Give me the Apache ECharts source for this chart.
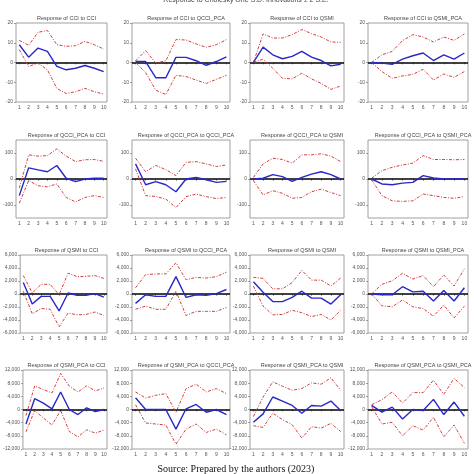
<!DOCTYPE html>
<html>
<head>
<meta charset="utf-8">
<script src="https://cdn.jsdelivr.net/npm/echarts@6/dist/echarts.min.js"></script>
<style>html,body{margin:0;padding:0;background:#fff;}#c{width:474px;height:474px;}</style>
</head>
<body>
<div id="c"></div>
<script>
// ---- data ----
const periods = [1,2,3,4,5,6,7,8,9,10];
const mainTitle = 'Response to Cholesky One S.D. Innovations \u00b1 2 S.E.';
const sourceText = 'Source: Prepared by the authors (2023)';
const titles = [
  'Response of CCI to CCI','Response of CCI to QCCI_PCA','Response of CCI to QSMI','Response of CCI to QSMI_PCA',
  'Response of QCCI_PCA to CCI','Response of QCCI_PCA to QCCI_PCA','Response of QCCI_PCA to QSMI','Response of QCCI_PCA to QSMI_PCA',
  'Response of QSMI to CCI','Response of QSMI to QCCI_PCA','Response of QSMI to QSMI','Response of QSMI to QSMI_PCA',
  'Response of QSMI_PCA to CCI','Response of QSMI_PCA to QCCI_PCA','Response of QSMI_PCA to QSMI','Response of QSMI_PCA to QSMI_PCA'
];
// row y-axis ranges and label ticks
const rowMin = [-20,-150,-6000,-12000];
const rowMax = [20,150,6000,12000];
const rowTicks = [[-20,-10,0,10,20],[-100,0,100],[-6000,-4000,-2000,0,2000,4000,6000],[-12000,-8000,-4000,0,4000,8000,12000]];

// panel 1: CCI to CCI
const p1_up  = [11.2,8.7,15.3,16.2,9.0,8.2,8.5,10.7,9.0,6.8];
const p1_mid = [9.0,2.7,7.3,5.6,-2.0,-3.7,-2.9,-1.5,-2.9,-4.6];
const p1_lo  = [6.5,-2.0,-0.3,-3.7,-13.1,-15.7,-14.8,-13.1,-14.8,-16.0];
// panel 2: CCI to QCCI_PCA
const p2_up  = [0.8,6.0,-0.3,0.9,11.6,11.4,9.4,7.7,9.0,11.6];
const p2_mid = [0.5,0.5,-7.7,-7.7,2.6,2.6,0.9,-1.4,0.5,2.9];
const p2_lo  = [0.0,-5.1,-14.0,-16.2,-6.5,-7.1,-8.9,-10.6,-8.5,-6.5];
// panel 3: CCI to QSMI
const p3_up  = [0,14.5,12.4,12.4,14.1,16.7,14.6,12.9,10.4,10.2];
const p3_mid = [0,7.8,3.9,1.9,3.1,5.6,2.7,1.0,-1.7,-0.9];
const p3_lo  = [0,1.7,-2.9,-8.0,-8.3,-5.4,-8.3,-10.6,-13.6,-11.9];
// panel 4: CCI to QSMI_PCA
const p4_up  = [0,3.9,5.6,11.1,14.1,12.9,10.4,12.9,11.2,14.5];
const p4_mid = [0,-0.3,-0.9,1.7,3.4,4.8,1.0,3.9,1.7,4.8];
const p4_lo  = [0,-4.6,-8.0,-6.8,-6.0,-3.4,-8.9,-5.8,-7.5,-4.6];
// panel 5: QCCI_PCA to CCI
const p5_up  = [-35,93,88,90,116,88,67,74,75,68];
const p5_mid = [-64,43,35,28,52,3,-10,0,3,3];
const p5_lo  = [-93,-6,-26,-30,-19,-71,-88,-71,-64,-71];
// panel 6: QCCI_PCA to QCCI_PCA
const p6_up  = [80,28,52,36,13,64,67,58,48,54];
const p6_mid = [58,-22,-10,-22,-49,0,6,-3,-13,-9];
const p6_lo  = [39,-64,-67,-77,-110,-68,-58,-68,-75,-71];
// panel 7: QCCI_PCA to QSMI
const p7_up  = [6,58,80,75,61,93,93,97,88,67];
const p7_mid = [0,3,17,9,-9,6,19,28,17,0];
const p7_lo  = [-6,-61,-45,-55,-74,-71,-49,-39,-52,-64];
// panel 8: QCCI_PCA to QSMI_PCA
const p8_up  = [3,32,45,54,61,90,75,75,74,75];
const p8_mid = [0,-19,-22,-16,-13,13,4,0,0,1];
const p8_lo  = [-3,-64,-84,-86,-84,-58,-64,-71,-74,-68];
// panel 9: QSMI to CCI
const p9_up  = [2830,160,1490,1490,-110,3200,2670,2720,2830,2400];
const p9_mid = [1760,-1550,-370,-370,-2610,160,-210,-210,50,-480];
const p9_lo  = [430,-3040,-2240,-2350,-5070,-2930,-3200,-3150,-2770,-3310];
// panel 10: QSMI to QCCI_PCA
const p10_up  = [960,2990,3090,3090,4800,2190,2560,2450,2670,3360];
const p10_mid = [-1440,-110,-370,-370,2670,-530,-110,-210,50,690];
const p10_lo  = [-2350,-1870,-2350,-2350,430,-3310,-2670,-2670,-2670,-2080];
// panel 11: QSMI to QSMI
const p11_up  = [2560,2400,800,800,1760,3630,2130,2130,1230,2450];
const p11_mid = [1870,270,-1170,-1170,-530,430,-640,-640,-1550,-110];
const p11_lo  = [1230,-1870,-3200,-3150,-2510,-2880,-3470,-3150,-4000,-2510];
// panel 12: QSMI to QSMI_PCA
const p12_up  = [0,1490,2030,3200,2290,2830,1120,2930,1230,3890];
const p12_mid = [0,-110,-110,1120,320,430,-1070,530,-1070,960];
const p12_lo  = [0,-1810,-1970,-910,-1970,-2240,-3410,-1710,-3680,-1870];
// panel 13: QSMI_PCA to CCI
const p13_up  = [-1850,7180,6050,5030,10970,7080,5330,7180,5640,6560];
const p13_mid = [-4410,3280,1950,210,5330,0,-1540,510,-620,0];
const p13_lo  = [-6770,-310,-2560,-4720,-310,-6670,-8310,-6150,-7180,-6260];
// panel 14: QSMI_PCA to QCCI_PCA
const p14_up  = [5330,3490,4310,4820,-820,6360,7690,5330,6360,4820];
const p14_mid = [3590,0,0,0,-5950,210,1540,-820,0,-1540];
const p14_lo  = [1440,-4100,-4410,-4720,-10560,-5950,-4410,-6970,-5950,-7690];
// panel 15: QSMI_PCA to QSMI
const p15_up  = [-2150,3800,8410,7080,5850,6360,8100,7690,9640,5850];
const p15_mid = [-3900,-1330,3800,2560,1230,-1130,1230,1030,2560,-310];
const p15_lo  = [-4920,-5440,-1130,-3080,-4620,-8720,-5230,-5640,-4210,-6670];
// panel 16: QSMI_PCA to QSMI_PCA
const p16_up  = [1440,2970,5330,1950,5130,5130,8920,4620,9440,6670];
const p16_mid = [1230,-820,720,-2870,0,-310,3080,-1540,2260,-2050];
const p16_lo  = [920,-4410,-3900,-8000,-4920,-6260,-2360,-8310,-4720,-10260];

const panels = [
  [p1_up,p1_mid,p1_lo],[p2_up,p2_mid,p2_lo],[p3_up,p3_mid,p3_lo],[p4_up,p4_mid,p4_lo],
  [p5_up,p5_mid,p5_lo],[p6_up,p6_mid,p6_lo],[p7_up,p7_mid,p7_lo],[p8_up,p8_mid,p8_lo],
  [p9_up,p9_mid,p9_lo],[p10_up,p10_mid,p10_lo],[p11_up,p11_mid,p11_lo],[p12_up,p12_mid,p12_lo],
  [p13_up,p13_mid,p13_lo],[p14_up,p14_mid,p14_lo],[p15_up,p15_mid,p15_lo],[p16_up,p16_mid,p16_lo]
];

// ---- layout ----
const colLeft = [16,132,250,368];
const colWidth = [91,98,94,100];
const rowTop = [23,140,255,370];
const rowHeight = [79,78,78,79];

const chart = echarts.init(document.getElementById('c'), null, {renderer:'canvas'});
const grids = [], xAxes = [], yAxes = [], series = [];
const titleArr = [
  {text: mainTitle, left: 241, top: -8, textAlign: 'center',
   textStyle: {fontSize: 7, fontWeight: 'normal', color: '#444', fontFamily: 'Liberation Sans'}},
  {text: sourceText, left: 231, top: 459, textAlign: 'center',
   textStyle: {fontSize: 10, fontWeight: 'normal', color: '#111', fontFamily: 'Liberation Serif'}}
];
const fmt = v => v === 0 ? '0' : Math.round(v).toLocaleString('en-US');
for (let i = 0; i < 16; i++) {
  const r = Math.floor(i / 4), c = i % 4;
  grids.push({left: colLeft[c], top: rowTop[r], width: colWidth[c], height: rowHeight[r],
    show: true, borderColor: '#888', borderWidth: 0.8, backgroundColor: 'transparent'});
  titleArr.push({text: titles[i], left: colLeft[c] + colWidth[c] / 2, top: rowTop[r] - 13, textAlign: 'center',
    textStyle: {fontSize: 5.5, fontWeight: 'normal', color: '#444', fontFamily: 'Liberation Sans'}});
  xAxes.push({type: 'value', gridIndex: i, min: 0.65, max: 10.35,
    axisLine: {show: false}, splitLine: {show: false},
    axisTick: {show: true, customValues: periods, length: 2, lineStyle: {color: '#666', width: 0.6}},
    axisLabel: {customValues: periods, fontSize: 5, color: '#555', margin: 3, fontFamily: 'Liberation Sans'}});
  yAxes.push({type: 'value', gridIndex: i, min: rowMin[r], max: rowMax[r],
    axisLine: {show: false}, splitLine: {show: false},
    axisTick: {show: true, customValues: rowTicks[r], length: 2, lineStyle: {color: '#666', width: 0.6}},
    axisLabel: {customValues: rowTicks[r], fontSize: 5, color: '#555', margin: 3, formatter: fmt, fontFamily: 'Liberation Sans'}});
  const [up, mid, lo] = panels[i];
  const pair = arr => periods.map((p, k) => [p, arr[k]]);
  const dash = {color: '#d23c3c', width: 1, type: [3, 1.5, 1, 1.5]};
  series.push({type: 'line', xAxisIndex: i, yAxisIndex: i, data: pair(up), symbol: 'none', lineStyle: dash, silent: true, z: 3});
  series.push({type: 'line', xAxisIndex: i, yAxisIndex: i, data: pair(lo), symbol: 'none', lineStyle: dash, silent: true, z: 3});
  series.push({type: 'line', xAxisIndex: i, yAxisIndex: i, data: pair(mid), symbol: 'none',
    lineStyle: {color: '#2828c8', width: 1.4}, silent: true, z: 4,
    markLine: {silent: true, symbol: 'none', label: {show: false}, animation: false,
      lineStyle: {color: '#000', width: 1.5, type: 'solid'}, data: [{yAxis: 0}], z: 2}});
}
chart.setOption({animation: false, title: titleArr, grid: grids, xAxis: xAxes, yAxis: yAxes, series: series});
</script>
</body>
</html>
